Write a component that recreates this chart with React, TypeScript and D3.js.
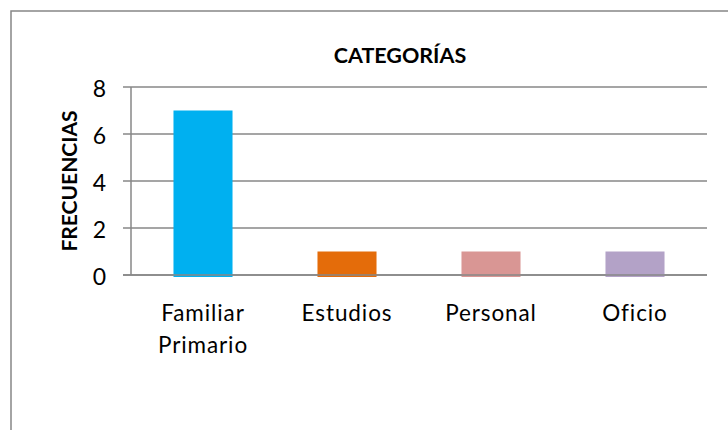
import React from "react";
import * as d3 from "d3";

const categories = ["Familiar Primario", "Estudios", "Personal", "Oficio"];
const values = [7, 1, 1, 1];
const colors = ["#00B0F0", "#E46C0A", "#D99694", "#B3A2C7"];
const yTicks = [0, 2, 4, 6, 8];
const title = "CATEGORÍAS";
const yLabel = "FRECUENCIAS";

const W = 728;
const H = 430;
const FONT = "Lato, 'Noto Sans', sans-serif";
const GRID = "#878787";

export default function App() {
  const x = d3
    .scaleBand<string>()
    .domain(categories)
    .range([131, 707])
    .paddingInner(0.59)
    .paddingOuter(0.295);
  const y = d3.scaleLinear().domain([0, 8]).range([275, 87]);

  return (
    <svg
      width={W}
      height={H}
      style={{ position: "absolute", left: 0, top: 0, background: "#fff" }}
    >
      <rect x={0} y={0} width={W} height={H} fill="#fff" />
      <rect
        x={11}
        y={11}
        width={W + 20}
        height={H + 20}
        fill="none"
        stroke={GRID}
        strokeWidth={1.5}
      />
      <text
        x={400}
        y={63}
        textAnchor="middle"
        fontFamily={FONT}
        fontWeight="bold"
        fontSize={21.5}
        fill="#000"
      >
        {title}
      </text>
      {yTicks.map((t) => (
        <g key={t}>
          <line
            x1={123}
            x2={707}
            y1={y(t)}
            y2={y(t)}
            stroke={GRID}
            strokeWidth={1.5}
          />
          <text
            x={106}
            y={y(t) + 10}
            textAnchor="end"
            fontFamily={FONT}
            fontSize={23}
            fill="#000"
          >
            {t}
          </text>
        </g>
      ))}
      <line x1={131} x2={131} y1={y(8)} y2={y(0)} stroke={GRID} strokeWidth={1.5} />
      {categories.map((c, i) => (
        <rect
          key={c}
          x={x(c)}
          y={y(values[i])}
          width={x.bandwidth()}
          height={y(0) - y(values[i]) + 2}
          fill={colors[i]}
        />
      ))}
      <line x1={123} x2={707} y1={y(0)} y2={y(0)} stroke={GRID} strokeWidth={1.5} />
      {categories.map((c) => {
        const words = c.split(" ");
        const cx = (x(c) as number) + x.bandwidth() / 2;
        return (
          <text
            key={c}
            x={cx}
            textAnchor="middle"
            fontFamily={FONT}
            fontSize={22.5}
            letterSpacing={0.9}
            fill="#000"
          >
            {words.map((w, j) => (
              <tspan key={j} x={cx} y={321 + j * 32}>
                {w}
              </tspan>
            ))}
          </text>
        );
      })}
      <text
        transform={`translate(77, ${(y(0) + y(8)) / 2}) rotate(-90)`}
        textAnchor="middle"
        fontFamily={FONT}
        fontWeight="bold"
        fontSize={21}
        fill="#000"
      >
        {yLabel}
      </text>
    </svg>
  );
}
